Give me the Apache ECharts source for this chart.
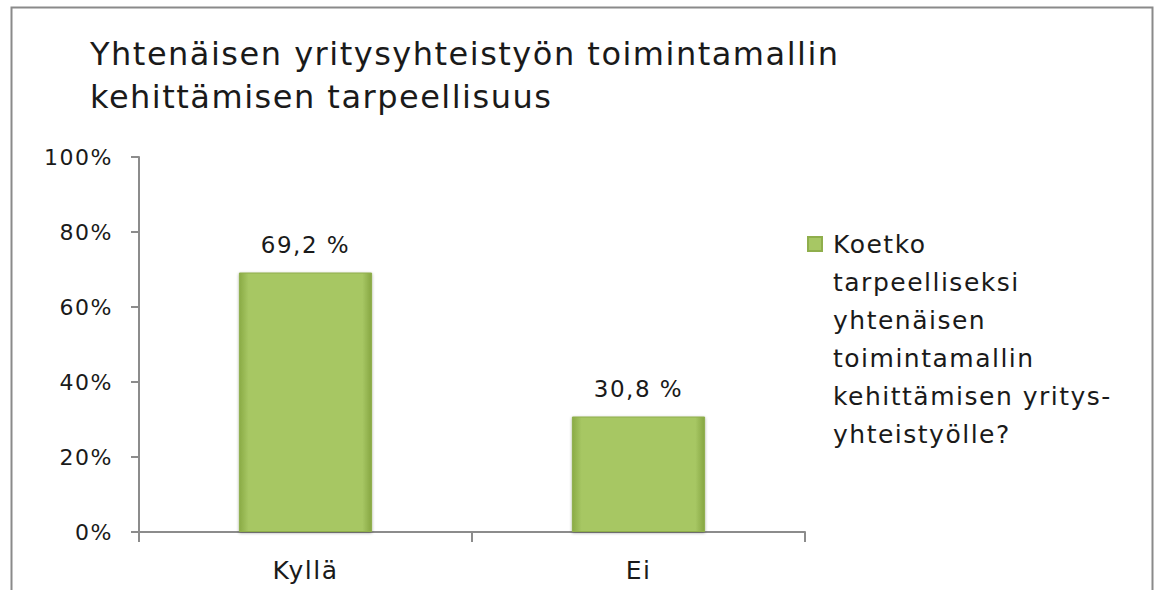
<!DOCTYPE html>
<html>
<head>
<meta charset="utf-8">
<script src="https://cdn.jsdelivr.net/npm/echarts@6/dist/echarts.min.js"></script>
<style>
  html, body { margin: 0; padding: 0; background: #fff; }
  #chart { width: 1155px; height: 590px; }
  #chart text { letter-spacing: 1.5px; }
</style>
</head>
<body>
<div id="chart"></div>
<script>
const categories = ['Kyllä', 'Ei']
const values = [69.2, 30.8]
const seriesName = 'Koetko tarpeelliseksi yhtenäisen toimintamallin kehittämisen yritys-yhteistyölle?'
const legendLines = ['Koetko', 'tarpeelliseksi', 'yhtenäisen', 'toimintamallin', 'kehittämisen yritys-', 'yhteistyölle?']
const titleText = 'Yhtenäisen yritysyhteistyön toimintamallin\nkehittämisen tarpeellisuus'

const font = 'DejaVu Sans'
const textColor = '#1a1a1a'
const axisColor = '#8c8c8c'

const option = {
  animation: false,
  backgroundColor: '#fff',
  textStyle: { fontFamily: font },
  title: {
    text: titleText,
    left: 85,
    top: 27,
    textStyle: {
      fontFamily: font,
      fontSize: 32,
      fontWeight: 'normal',
      lineHeight: 43,
      color: textColor
    }
  },
  // outer frame of the original picture
  graphic: [{
    type: 'rect',
    shape: { x: 11.5, y: 7.5, width: 1141, height: 620 },
    style: { fill: 'none', stroke: '#8a8a8a', lineWidth: 2 },
    silent: true
  }],
  legend: {
    orient: 'vertical',
    left: 802,
    top: 30,
    itemWidth: 26,
    itemHeight: 14,
    itemGap: 6,
    icon: 'path://M0,0h10v10h-10z',
    // leading blank lines keep the icon next to the first text line
    formatter: function () {
      return '\n\n\n\n\n' + legendLines.join('\n')
    },
    textStyle: {
      fontFamily: font,
      fontSize: 25,
      lineHeight: 38,
      color: textColor
    },
    data: [seriesName]
  },
  grid: {
    left: 139,
    right: 350,
    top: 157,
    bottom: 58
  },
  xAxis: {
    type: 'category',
    data: categories,
    axisLine: { show: true, lineStyle: { color: axisColor, width: 2 } },
    axisTick: { show: true, length: 10, lineStyle: { color: axisColor, width: 2 } },
    axisLabel: {
      color: textColor,
      fontFamily: font,
      fontSize: 25,
      margin: 26
    },
    splitLine: { show: false }
  },
  yAxis: {
    type: 'value',
    min: 0,
    max: 100,
    interval: 20,
    axisLine: { show: true, lineStyle: { color: axisColor, width: 2 } },
    axisTick: { show: true, length: 8, lineStyle: { color: axisColor, width: 2 } },
    axisLabel: {
      color: textColor,
      fontFamily: font,
      fontSize: 22,
      margin: 26,
      formatter: '{value}%'
    },
    splitLine: { show: false }
  },
  series: [{
    name: seriesName,
    type: 'bar',
    barWidth: '40%',
    data: values,
    itemStyle: {
      color: {
        type: 'linear', x: 0, y: 0, x2: 1, y2: 0,
        colorStops: [
          { offset: 0, color: '#8aab46' },
          { offset: 0.07, color: '#a7c764' },
          { offset: 0.93, color: '#a7c764' },
          { offset: 1, color: '#86a642' }
        ]
      },
      borderColor: '#8fae4c',
      borderWidth: 1,
      shadowColor: 'rgba(0,0,0,0.35)',
      shadowBlur: 3,
      shadowOffsetY: 1
    },
    label: {
      show: true,
      position: 'top',
      distance: 16,
      color: textColor,
      fontFamily: font,
      fontSize: 23,
      formatter: function (p) {
        return String(p.value).replace('.', ',') + ' %'
      }
    }
  }]
}

const myChart = echarts.init(document.getElementById('chart'), null, { renderer: 'svg' })
myChart.setOption(option)
window.addEventListener('resize', () => {
  myChart.resize()
})
</script>
</body>
</html>
